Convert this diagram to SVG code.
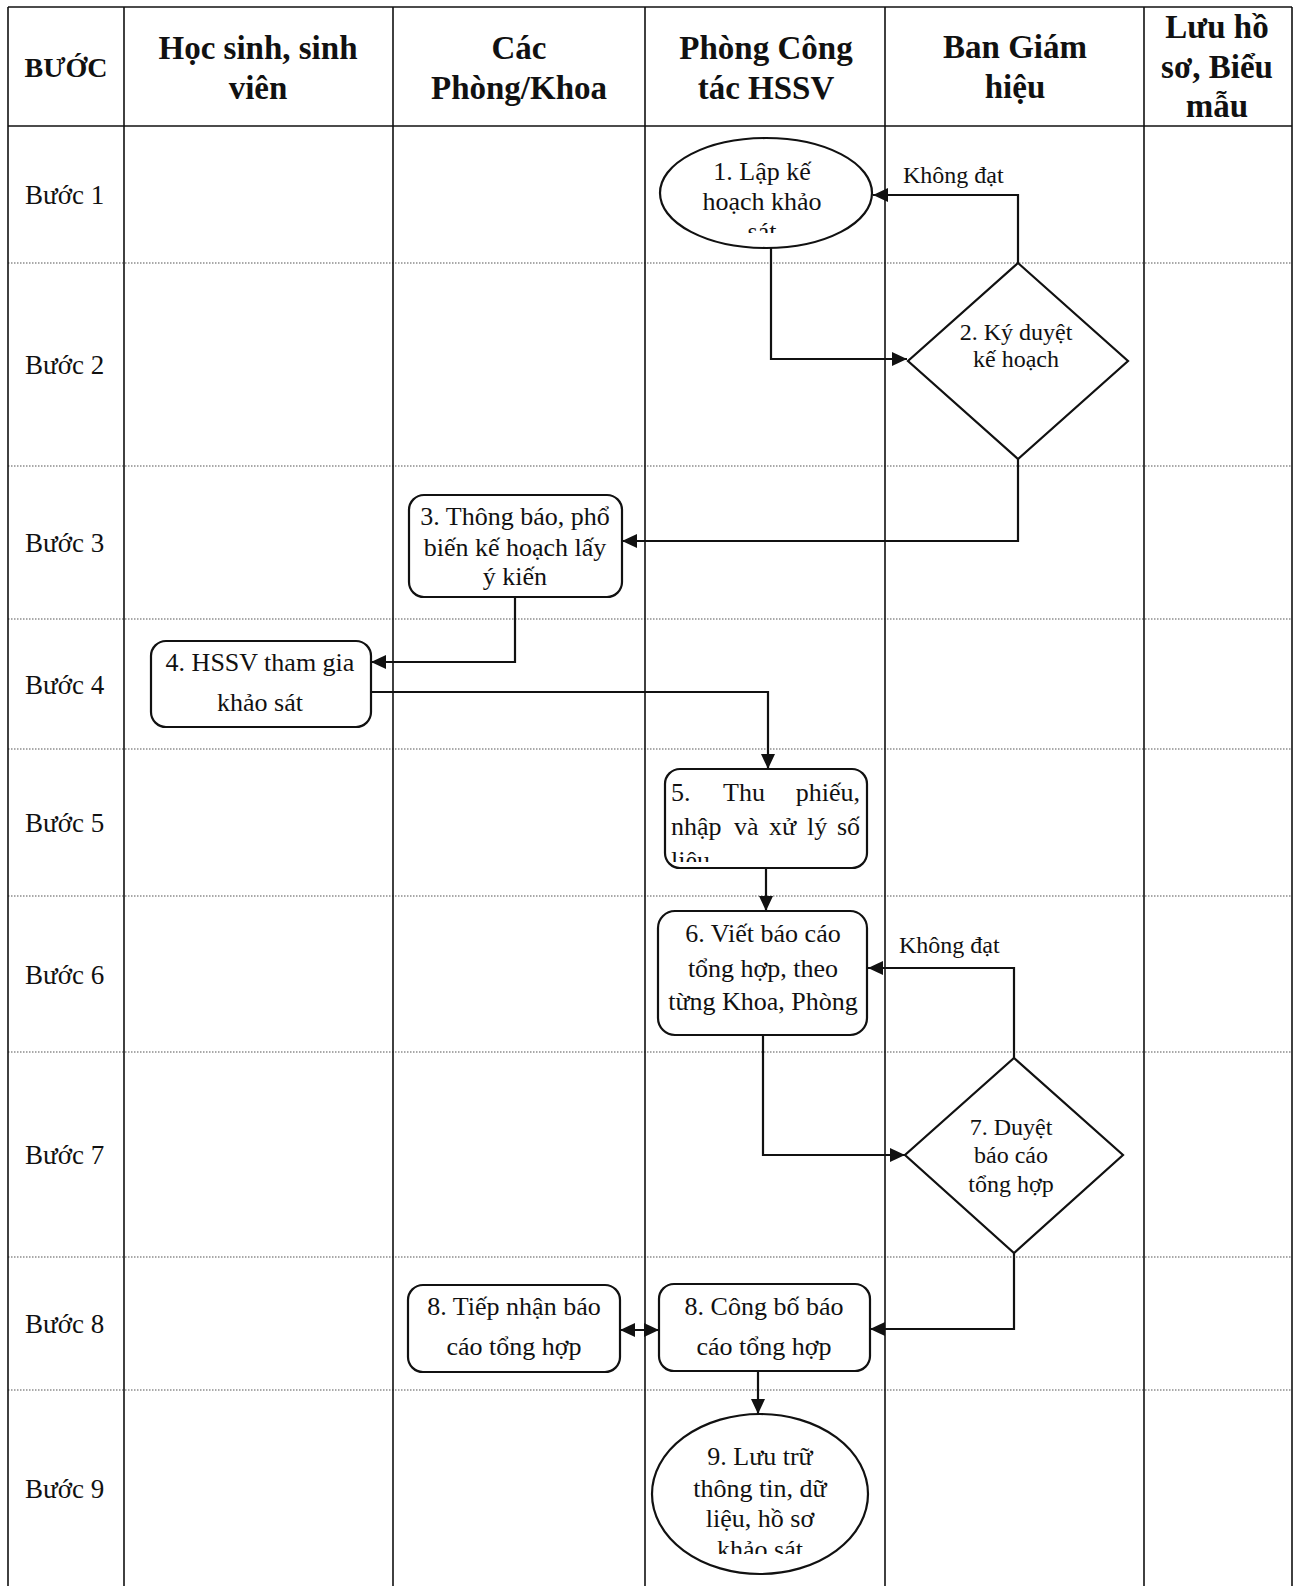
<svg xmlns="http://www.w3.org/2000/svg" width="1296" height="1586" viewBox="0 0 1296 1586">
<style>
  .grid { stroke:#111; stroke-width:1.6; fill:none; }
  .dot { stroke:#555; stroke-width:1.2; stroke-dasharray:1.5 1.5; fill:none; }
  .hd { font-family:"Liberation Serif","Times New Roman",serif; font-weight:bold; font-size:33px; fill:#111; text-anchor:middle; }
  .hds { font-family:"Liberation Serif","Times New Roman",serif; font-weight:bold; font-size:28px; fill:#111; text-anchor:middle; }
  .step { font-family:"Liberation Serif","Times New Roman",serif; font-size:27px; fill:#111; }
  .nt { font-family:"Liberation Serif","Times New Roman",serif; font-size:26px; fill:#111; text-anchor:middle; }
  .ns { font-family:"Liberation Serif","Times New Roman",serif; font-size:26px; fill:#111; text-anchor:start; }
  .ne { font-family:"Liberation Serif","Times New Roman",serif; font-size:26px; fill:#111; text-anchor:end; }
  .dt { font-family:"Liberation Serif","Times New Roman",serif; font-size:24px; fill:#111; text-anchor:middle; }
  .lbl { font-family:"Liberation Serif","Times New Roman",serif; font-size:24px; fill:#111; }
  .shape { fill:#fff; stroke:#111; stroke-width:2.2; }
  .conn { fill:none; stroke:#111; stroke-width:2.2; }
</style>
<defs>
  <marker id="arr" markerUnits="userSpaceOnUse" markerWidth="16" markerHeight="14" refX="15" refY="7" orient="auto-start-reverse">
    <path d="M0,0 L15,7 L0,14 z" fill="#111"/>
  </marker>
  <clipPath id="clip1"><rect x="640" y="130" width="250" height="103"/></clipPath>
  <clipPath id="clip5"><rect x="660" y="770" width="210" height="92"/></clipPath>
  <clipPath id="clip9"><rect x="640" y="1410" width="250" height="144"/></clipPath>
</defs>
<rect width="1296" height="1586" fill="#fff"/>

<g id="grid">
  <line class="dot" x1="8" y1="263" x2="1292" y2="263"/>
  <line class="dot" x1="8" y1="466" x2="1292" y2="466"/>
  <line class="dot" x1="8" y1="619" x2="1292" y2="619"/>
  <line class="dot" x1="8" y1="749" x2="1292" y2="749"/>
  <line class="dot" x1="8" y1="896" x2="1292" y2="896"/>
  <line class="dot" x1="8" y1="1052" x2="1292" y2="1052"/>
  <line class="dot" x1="8" y1="1257" x2="1292" y2="1257"/>
  <line class="dot" x1="8" y1="1390" x2="1292" y2="1390"/>
  <line class="grid" x1="8" y1="7" x2="1292" y2="7"/>
  <line class="grid" x1="8" y1="126" x2="1292" y2="126"/>
  <line class="grid" x1="8" y1="7" x2="8" y2="1586"/>
  <line class="grid" x1="124" y1="7" x2="124" y2="1586"/>
  <line class="grid" x1="393" y1="7" x2="393" y2="1586"/>
  <line class="grid" x1="645" y1="7" x2="645" y2="1586"/>
  <line class="grid" x1="885" y1="7" x2="885" y2="1586"/>
  <line class="grid" x1="1144" y1="7" x2="1144" y2="1586"/>
  <line class="grid" x1="1292" y1="7" x2="1292" y2="1586"/>
</g>

<g id="header">
  <text class="hds" x="66" y="77">BƯỚC</text>
  <text class="hd" x="258" y="59">Học sinh, sinh</text>
  <text class="hd" x="258" y="99">viên</text>
  <text class="hd" x="519" y="59">Các</text>
  <text class="hd" x="519" y="99">Phòng/Khoa</text>
  <text class="hd" x="766" y="59">Phòng Công</text>
  <text class="hd" x="766" y="99">tác HSSV</text>
  <text class="hd" x="1015" y="58">Ban Giám</text>
  <text class="hd" x="1015" y="98">hiệu</text>
  <text class="hd" x="1217" y="38">Lưu hồ</text>
  <text class="hd" x="1217" y="78">sơ, Biểu</text>
  <text class="hd" x="1217" y="117">mẫu</text>
</g>

<g id="steps">
  <text class="step" x="25" y="204">Bước 1</text>
  <text class="step" x="25" y="374">Bước 2</text>
  <text class="step" x="25" y="552">Bước 3</text>
  <text class="step" x="25" y="694">Bước 4</text>
  <text class="step" x="25" y="832">Bước 5</text>
  <text class="step" x="25" y="984">Bước 6</text>
  <text class="step" x="25" y="1164">Bước 7</text>
  <text class="step" x="25" y="1333">Bước 8</text>
  <text class="step" x="25" y="1498">Bước 9</text>
</g>

<g id="connectors">
  <path class="conn" d="M771,248 V359 H907" marker-end="url(#arr)"/>
  <path class="conn" d="M1018,263 V195 H873" marker-end="url(#arr)"/>
  <text class="lbl" x="903" y="183">Không đạt</text>
  <path class="conn" d="M1018,459 V541 H622" marker-end="url(#arr)"/>
  <path class="conn" d="M515,597 V662 H371" marker-end="url(#arr)"/>
  <path class="conn" d="M371,692 H768 V769" marker-end="url(#arr)"/>
  <path class="conn" d="M766,868 V911" marker-end="url(#arr)"/>
  <path class="conn" d="M1014,1058 V968 H868" marker-end="url(#arr)"/>
  <text class="lbl" x="899" y="953">Không đạt</text>
  <path class="conn" d="M763,1035 V1155 H905" marker-end="url(#arr)"/>
  <path class="conn" d="M1014,1253 V1329 H870" marker-end="url(#arr)"/>
  <path class="conn" d="M620,1330 H659" marker-start="url(#arr)" marker-end="url(#arr)"/>
  <path class="conn" d="M758,1371 V1414" marker-end="url(#arr)"/>
</g>

<g id="node1">
  <ellipse class="shape" cx="766" cy="193" rx="106" ry="55"/>
  <g clip-path="url(#clip1)">
    <text class="nt" x="762" y="180">1. Lập kế</text>
    <text class="nt" x="762" y="210">hoạch khảo</text>
    <text class="nt" x="762" y="240">sát</text>
  </g>
</g>

<g id="node2">
  <polygon class="shape" points="1018,263 1128,361 1018,459 908,361"/>
  <text class="dt" x="1016" y="340">2. Ký duyệt</text>
  <text class="dt" x="1016" y="367">kế hoạch</text>
</g>

<g id="node3">
  <rect class="shape" x="409" y="495" width="213" height="102" rx="15"/>
  <text class="nt" x="515" y="525">3. Thông báo, phổ</text>
  <text class="nt" x="515" y="556">biến kế hoạch lấy</text>
  <text class="nt" x="515" y="585">ý kiến</text>
</g>

<g id="node4">
  <rect class="shape" x="151" y="641" width="220" height="86" rx="15"/>
  <text class="nt" x="260" y="671">4. HSSV tham gia</text>
  <text class="nt" x="260" y="711">khảo sát</text>
</g>

<g id="node5">
  <rect class="shape" x="665" y="769" width="202" height="99" rx="15"/>
  <g clip-path="url(#clip5)">
    <text class="ns" x="671" y="801">5.</text>
    <text class="ns" x="723" y="801">Thu</text>
    <text class="ne" x="860" y="801">phiếu,</text>
    <text class="ns" x="671" y="835">nhập</text>
    <text class="ns" x="734" y="835">và</text>
    <text class="ns" x="769" y="835">xử</text>
    <text class="ns" x="807" y="835">lý</text>
    <text class="ne" x="860" y="835">số</text>
    <text class="ns" x="671" y="869">liệu</text>
  </g>
</g>

<g id="node6">
  <rect class="shape" x="658" y="911" width="209" height="124" rx="17"/>
  <text class="nt" x="763" y="942">6. Viết báo cáo</text>
  <text class="nt" x="763" y="977">tổng hợp, theo</text>
  <text class="nt" x="763" y="1010">từng Khoa, Phòng</text>
</g>

<g id="node7">
  <polygon class="shape" points="1014,1058 1123,1155 1014,1253 905,1155"/>
  <text class="dt" x="1011" y="1135">7. Duyệt</text>
  <text class="dt" x="1011" y="1163">báo cáo</text>
  <text class="dt" x="1011" y="1192">tổng hợp</text>
</g>

<g id="node8a">
  <rect class="shape" x="408" y="1285" width="212" height="87" rx="15"/>
  <text class="nt" x="514" y="1315">8. Tiếp nhận báo</text>
  <text class="nt" x="514" y="1355">cáo tổng hợp</text>
</g>

<g id="node8b">
  <rect class="shape" x="659" y="1284" width="211" height="87" rx="15"/>
  <text class="nt" x="764" y="1315">8. Công bố báo</text>
  <text class="nt" x="764" y="1355">cáo tổng hợp</text>
</g>

<g id="node9">
  <ellipse class="shape" cx="760" cy="1494" rx="108" ry="80"/>
  <g clip-path="url(#clip9)">
    <text class="nt" x="760" y="1465">9. Lưu trữ</text>
    <text class="nt" x="760" y="1497">thông tin, dữ</text>
    <text class="nt" x="760" y="1527">liệu, hồ sơ</text>
    <text class="nt" x="760" y="1558">khảo sát</text>
  </g>
</g>
</svg>
